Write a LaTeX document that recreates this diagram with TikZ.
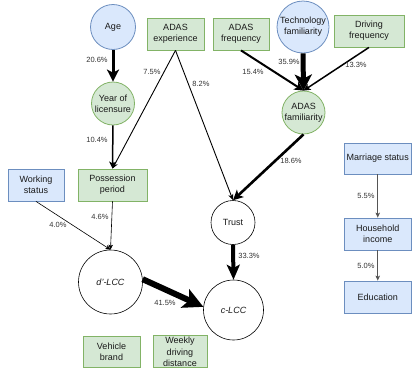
\documentclass[tikz,border=0pt]{standalone}
\usepackage{fontspec}
\setmainfont{Liberation Sans}
\usetikzlibrary{arrows.meta}
\definecolor{bluefill}{HTML}{DAE8FC}
\definecolor{bluedraw}{HTML}{6C8EBF}
\definecolor{greenfill}{HTML}{D5E8D4}
\definecolor{greendraw}{HTML}{82B366}
\definecolor{pctgray}{HTML}{333333}
\definecolor{linkgray}{HTML}{555555}

\begin{document}
\begin{tikzpicture}[x=1pt,y=-1pt,
  every node/.style={font=\fontsize{9}{11}\selectfont, align=center, inner sep=0pt, text=black!90},
  bluebox/.style={rectangle, draw=bluedraw, fill=bluefill, line width=0.8pt, minimum height=32pt},
  greenbox/.style={rectangle, draw=greendraw, fill=greenfill, line width=0.8pt, minimum height=32pt},
  blueball/.style={circle, draw=bluedraw, fill=bluefill, line width=0.8pt},
  greenball/.style={circle, draw=greendraw, fill=greenfill, line width=0.8pt},
  plainball/.style={circle, draw=black, fill=white, line width=0.6pt},
  pct/.style={font=\fontsize{7.5}{9}\selectfont, text=pctgray},
  wA/.style={line width=0.6pt, -{Stealth[length=5pt,width=4.5pt,inset=1.2pt]}},
  wB/.style={line width=0.9pt, -{Stealth[length=6pt,width=5pt,inset=1.5pt]}},
  wC/.style={line width=1.5pt, -{Stealth[length=7pt,width=7pt,inset=1.8pt]}},
  wD/.style={line width=2pt, -{Stealth[length=9pt,width=9pt,inset=2.2pt]}},
  wE/.style={line width=2.6pt, -{Stealth[length=10pt,width=10pt,inset=2.5pt]}},
  wF/.style={line width=3pt, -{Stealth[length=12pt,width=12pt,inset=3pt]}},
  wG/.style={line width=4pt, -{Stealth[length=15pt,width=13pt,inset=3.5pt]}},
  wH/.style={line width=5pt, -{Stealth[length=16pt,width=17pt,inset=4pt]}},
  wI/.style={line width=6pt, -{Stealth[length=20pt,width=20pt,inset=4.5pt]}},
  grayarrow/.style={line width=0.9pt, draw=linkgray, -{Stealth[length=5pt,width=4.5pt,inset=1.2pt]}}
]
\useasboundingbox (0,0) rectangle (412,370);

% factor nodes
\node[blueball, minimum size=45pt] (age) at (113,27) {Age};
\node[greenball, minimum size=43pt] (year) at (113,103.5) {Year of\\licensure};
\node[greenbox, minimum width=57pt] (adasexp) at (175.5,34) {ADAS\\experience};
\node[greenbox, minimum width=56pt] (adasfreq) at (241,34) {ADAS\\frequency};
\node[blueball, minimum size=52pt] (tech) at (303,27) {Technology\\familiarity};
\node[greenbox, minimum width=70pt] (drivefreq) at (369,31) {Driving\\frequency};
\node[greenball, minimum size=43pt] (adasfam) at (303.5,112.5) {ADAS\\familiarity};

\node[bluebox, minimum width=56pt] (work) at (36,185) {Working\\status};
\node[greenbox, minimum width=69pt] (poss) at (112.5,185) {Possession\\period};
\node[plainball, minimum size=44pt] (trust) at (233,222.5) {Trust};

\node[plainball, minimum size=64pt] (dlcc) at (110.5,282) {\itshape d'-LCC};
\node[plainball, minimum size=60pt] (clcc) at (233.5,310) {\itshape c-LCC};

\node[bluebox, minimum width=67pt, minimum height=31pt] (marriage) at (377.75,158.5) {Marriage status};
\node[bluebox, minimum width=67pt] (income) at (377.75,234) {Household\\income};
\node[bluebox, minimum width=67pt] (educ) at (377.75,297) {Education};

\node[greenbox, minimum width=57pt, minimum height=31pt] (brand) at (111.5,351.5) {Vehicle\\brand};
\node[greenbox, minimum width=54pt] (weekly) at (180,351) {};
\node[font=\fontsize{9}{11.5}\selectfont] (weeklytext) at (180,352) {Weekly\\driving\\distance};

% links
\draw[wF] (age) -- (year);
\draw[wC] (year) -- (poss);
\draw[wB] (adasexp.south) -- (poss.north);
\draw[wB] (adasexp.south) -- (trust.north);
\draw[wD] (adasfreq.south) -- (adasfam.north);
\draw[wH] (tech.south) -- (adasfam.north);
\draw[wC] (drivefreq.south) -- (adasfam.north);
\draw[wE] (adasfam.south) -- (trust.north);
\draw[wG] (trust.south) -- (clcc.north);
\draw[wA] (work.south) -- (dlcc.north);
\draw[wA] (poss.south) -- (dlcc.north);
\draw[wI] (dlcc.5) -- (clcc.174);
\draw[grayarrow] (marriage) -- (income);
\draw[grayarrow] (income) -- (educ);

% path coefficients
\node[pct] (p1) at (97,60) {20.6\%};
\node[pct] (p2) at (152,72) {7.5\%};
\node[pct] (p3) at (201,84) {8.2\%};
\node[pct] (p4) at (97,140) {10.4\%};
\node[pct] (p5) at (58,225) {4.0\%};
\node[pct] (p6) at (100,217) {4.6\%};
\node[pct] (p7) at (253,72) {15.4\%};
\node[pct] (p8) at (289,62) {35.9\%};
\node[pct] (p9) at (356,65) {13.3\%};
\node[pct] (p10) at (291,161) {18.6\%};
\node[pct] (p11) at (249,256) {33.3\%};
\node[pct] (p12) at (165,303) {41.5\%};
\node[pct] (p13) at (366,196) {5.5\%};
\node[pct] (p14) at (366,266) {5.0\%};
\end{tikzpicture}
\end{document}
